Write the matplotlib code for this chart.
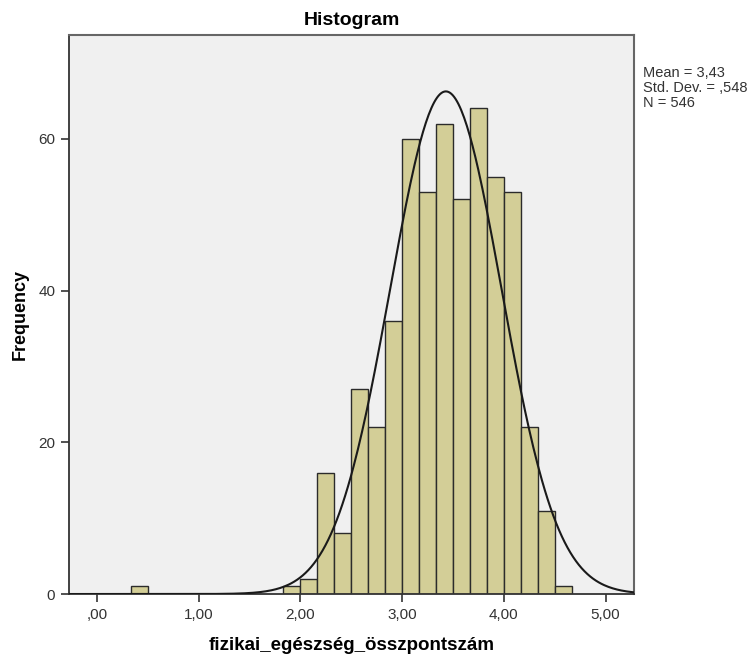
import numpy as np
import matplotlib
matplotlib.use('Agg')
import matplotlib.pyplot as plt
from matplotlib.ticker import FixedLocator

plt.rcParams['font.family'] = ['Liberation Sans', 'DejaVu Sans']

# Gyakoriságok 1/6 széles osztályokban, 0-tól kezdve
bin_width = 1 / 6
counts = [0, 0, 1, 0, 0, 0, 0, 0, 0, 0, 0,
          1, 2, 16, 8, 27, 22, 36, 60, 53, 62, 52, 64, 55, 53, 22, 11, 1]
x_ticks = [0, 1, 2, 3, 4, 5]
x_tick_labels = [',00', '1,00', '2,00', '3,00', '4,00', '5,00']
y_ticks = [0, 20, 40, 60]

mean = 3.43
std = 0.548
n = 546

edges = np.arange(len(counts)) * bin_width
counts = np.array(counts)
mask = counts > 0

fig = plt.figure(figsize=(7.52, 6.59), dpi=100)
ax = fig.add_axes([0.0918, 0.0986, 0.7513, 0.8485])
ax.set_facecolor('#f0f0f0')

ax.bar(edges[mask], counts[mask], width=bin_width, align='edge',
       color='#d3ce97', edgecolor='#2b2b2b', linewidth=1.0, zorder=2)

xlim = (-0.275, 5.28)
xs = np.linspace(xlim[0], xlim[1], 400)
ys = n * bin_width * np.exp(-0.5 * ((xs - mean) / std) ** 2) / (std * np.sqrt(2 * np.pi))
ax.plot(xs, ys, color='#1a1a1a', linewidth=1.5, zorder=3)

ax.set_xlim(*xlim)
ax.set_ylim(0, 73.7)
ax.xaxis.set_major_locator(FixedLocator(x_ticks))
ax.set_xticklabels(x_tick_labels)
ax.yaxis.set_major_locator(FixedLocator(y_ticks))
ax.tick_params(axis='both', direction='out', length=6, width=1.2,
               color='#333333', labelsize=11, labelcolor='#333333', pad=4)

for side in ['left', 'bottom']:
    ax.spines[side].set_color('#333333')
    ax.spines[side].set_linewidth(1.3)
for side in ['top', 'right']:
    ax.spines[side].set_color('#666666')
    ax.spines[side].set_linewidth(1.5)

ax.set_title('Histogram', fontsize=14, fontweight='bold', pad=7)
ax.set_xlabel('fizikai_egészség_összpontszám', fontsize=13.5, fontweight='bold', labelpad=11)
ax.set_ylabel('Frequency', fontsize=13, fontweight='bold', labelpad=7)

stats = f'Mean = {mean:.2f}'.replace('.', ',') + '\n' \
        + 'Std. Dev. = ' + f'{std:.3f}'.replace('0.', ',') + '\n' \
        + f'N = {n}'
fig.text(643 / 752, 1 - 66 / 659, stats, fontsize=10.5, va='top', ha='left',
         linespacing=1.1, color='#333333')

fig.savefig('out.png', dpi=100, facecolor='white')
